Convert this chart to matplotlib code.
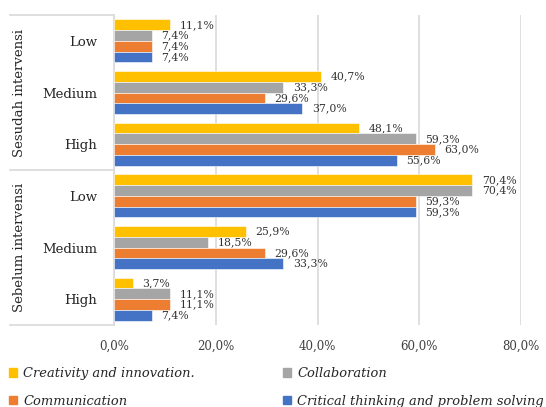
import matplotlib
matplotlib.use("Agg")
import matplotlib.pyplot as plt
import numpy as np
from matplotlib.lines import Line2D
from matplotlib.patches import Patch

plt.rcParams['font.family'] = ['DejaVu Serif']

groups = ["Sesudah intervensi", "Sebelum intervensi"]
levels = ["Low", "Medium", "High"]
series_names = ["Creativity and innovation.", "Collaboration", "Communication",
                "Critical thinking and problem solving"]
colors = ["#FFC000", "#A5A5A5", "#ED7D31", "#4472C4"]

# rows: Sesudah Low, Medium, High, Sebelum Low, Medium, High
creativity = [11.1, 40.7, 48.1, 70.4, 25.9, 3.7]
collaboration = [7.4, 33.3, 59.3, 70.4, 18.5, 11.1]
communication = [7.4, 29.6, 63.0, 59.3, 29.6, 11.1]
critical = [7.4, 37.0, 55.6, 59.3, 33.3, 7.4]
series = [creativity, collaboration, communication, critical]

xticks = [0, 20, 40, 60, 80]

fig = plt.figure(figsize=(5.46, 4.07), dpi=100)
ax = fig.add_axes([114/546, 1-325/407, (521-114)/546, (325-15)/407])

n = len(creativity)
y = np.arange(n)
h = 0.207
for i, (vals, c) in enumerate(zip(series, colors)):
    off = (i - 1.5) * h
    bars = ax.barh(y + off, vals, height=h, color=c, edgecolor='white', linewidth=0.4,
                   label=series_names[i], zorder=3)
    ax.bar_label(bars, labels=[f"{v:.1f}%".replace('.', ',') for v in vals],
                 padding=7, fontsize=7.8, color='#333333')

ax.set_ylim(n - 0.5, -0.5)
ax.set_xlim(0, 80)
ax.set_xticks(xticks)
ax.set_xticklabels([f"{t:.1f}%".replace('.', ',') for t in xticks], fontsize=8.5, color='#404040')
ax.tick_params(axis='x', length=0, pad=10.5)
ax.grid(axis='x', color='#D9D9D9', linewidth=1.2, zorder=0)
ax.set_yticks(y)
ax.set_yticklabels(levels * 2, fontsize=9.5, color='#262626')
ax.tick_params(axis='y', length=0, pad=12)
for s in ['top', 'right', 'bottom']:
    ax.spines[s].set_visible(False)
ax.spines['left'].set_color('#D9D9D9')
ax.spines['left'].set_linewidth(1.2)

# group separators and labels
px = 80 / (521 - 114)
for yy in [-0.5, 2.5, 5.5]:
    ax.add_line(Line2D([-104 * px, 0], [yy, yy], color='#D9D9D9', lw=1.2,
                       clip_on=False))
for gi, g in enumerate(groups):
    ax.text(-94 * px, gi*3 + 1, g, rotation=90, ha='center', va='center',
            fontsize=9.5, color='#262626', clip_on=False)

# legends
h1 = [Patch(color=colors[0]), Patch(color=colors[2])]
h2 = [Patch(color=colors[1]), Patch(color=colors[3])]
kw = dict(frameon=False, prop={'style': 'italic', 'size': 9.4}, handlelength=0.6,
          handleheight=0.6, handletextpad=0.5, labelspacing=1.12, borderaxespad=0,
          borderpad=0, labelcolor='#262626')
fig.legend(h1, [series_names[0], series_names[2]], loc='upper left',
           bbox_to_anchor=(9/546, 1-367/407), **kw)
fig.legend(h2, [series_names[1], series_names[3]], loc='upper left',
           bbox_to_anchor=(283/546, 1-367/407), **kw)

fig.savefig("out.png", dpi=100)
